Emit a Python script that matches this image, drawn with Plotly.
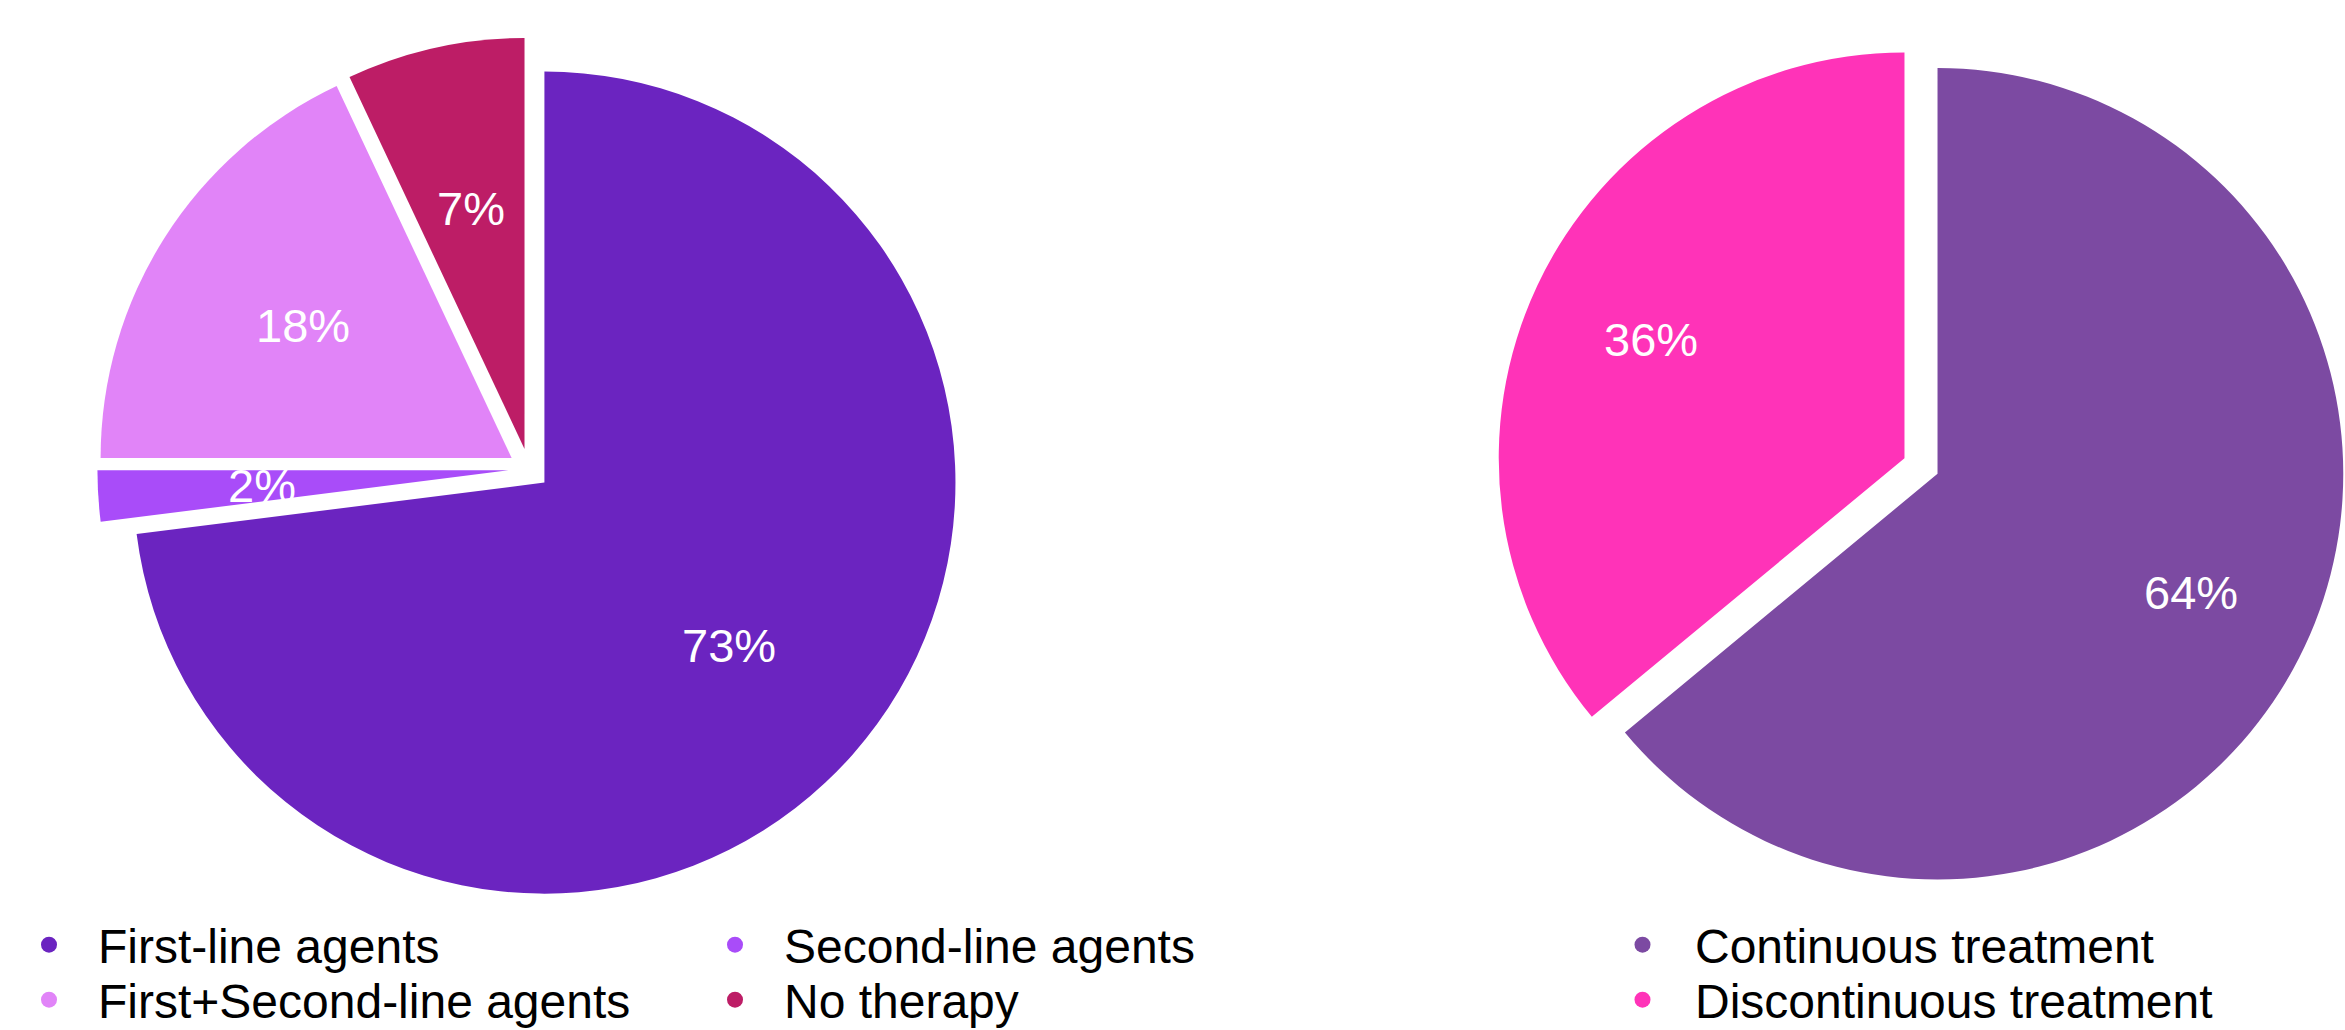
import math
import plotly.graph_objects as go

# ---- data ----
therapy_labels = ["First-line agents", "Second-line agents", "First+Second-line agents", "No therapy"]
therapy_values = [73, 2, 18, 7]
therapy_colors = ["#6b24c0", "#a94cf9", "#e184f8", "#bd1d66"]

treat_labels = ["Continuous treatment", "Discontinuous treatment"]
treat_values = [64, 36]
treat_colors = ["#7c4aa2", "#ff33b8"]

W, H = 2345, 1030
FONT = "Liberation Sans, Arial, Helvetica, sans-serif"

# pie boxes in pixels: (x0, x1, y0_top, y1_bottom)
LEFT_BOX = (97.4, 960.6, 37.4, 900.6)
RIGHT_BOX = (1497.0, 2345.0, 42.0, 890.0)
LEFT_PULL, RIGHT_PULL = 0.05, 0.045


def dom(box):
    x0, x1, t, b = box
    return dict(x=[x0 / W, min(x1 / W, 1.0)], y=[1 - b / H, 1 - t / H])


def label_annotations(values, box, pull, frac):
    """Percentage labels along each slice's bisector (same geometry plotly uses for the pie)."""
    x0, x1, t, b = box
    cx, cy = (x0 + x1) / 2, (t + b) / 2
    r = min(x1 - x0, b - t) / 2 / (1 + pull)
    total = float(sum(values))
    anns, cum = [], 0.0
    for v in values:
        theta = math.radians(360.0 * (cum + v / 2.0) / total)
        cum += v
        d = (pull + frac) * r
        px, py = cx + d * math.sin(theta), cy - d * math.cos(theta)
        anns.append(dict(x=px / W, y=1 - py / H, xref="paper", yref="paper",
                         text=f"{v}%", showarrow=False,
                         font=dict(color="white", size=47, family=FONT),
                         xanchor="center", yanchor="middle"))
    return anns


fig = go.Figure()

fig.add_trace(go.Pie(
    labels=therapy_labels, values=therapy_values, sort=False,
    direction="clockwise", rotation=0,
    marker=dict(colors=therapy_colors, line=dict(width=0)),
    pull=[LEFT_PULL] * len(therapy_values),
    textinfo="none", showlegend=False, hoverinfo="label+percent",
    domain=dom(LEFT_BOX),
))

fig.add_trace(go.Pie(
    labels=treat_labels, values=treat_values, sort=False,
    direction="clockwise", rotation=0,
    marker=dict(colors=treat_colors, line=dict(width=0)),
    pull=[RIGHT_PULL] * len(treat_values),
    textinfo="none", showlegend=False, hoverinfo="label+percent",
    domain=dom(RIGHT_BOX),
))

# legend entries (circle markers)
legend_rows = {"legend": [0, 1], "legend2": [2, 3]}
for lg, idxs in legend_rows.items():
    for i in idxs:
        fig.add_trace(go.Scatter(
            x=[None], y=[None], mode="markers", name=therapy_labels[i],
            marker=dict(symbol="circle", size=16, color=therapy_colors[i]),
            legend=lg, showlegend=True, hoverinfo="skip",
        ))
for i, lg in enumerate(["legend3", "legend4"]):
    fig.add_trace(go.Scatter(
        x=[None], y=[None], mode="markers", name=treat_labels[i],
        marker=dict(symbol="circle", size=16, color=treat_colors[i]),
        legend=lg, showlegend=True, hoverinfo="skip",
    ))

IW_LEFT = 88
leg_base = dict(orientation="h", xanchor="left", yanchor="middle",
                font=dict(size=48, color="#000000", family=FONT),
                bgcolor="rgba(0,0,0,0)", borderwidth=0,
                itemclick=False, itemdoubleclick=False)
leg_left = dict(leg_base, itemwidth=IW_LEFT,
                entrywidth=686 - IW_LEFT - 15, entrywidthmode="pixels")
leg_right = dict(leg_base, itemwidth=95)

annotations = (label_annotations(therapy_values, LEFT_BOX, LEFT_PULL, 0.60)
               + label_annotations(treat_values, RIGHT_BOX, RIGHT_PULL, 0.69))

ROW1, ROW2 = 945, 1000
fig.update_layout(
    width=W, height=H,
    margin=dict(l=0, r=0, t=0, b=0, autoexpand=False),
    paper_bgcolor="white", plot_bgcolor="white",
    xaxis=dict(visible=False), yaxis=dict(visible=False),
    legend=dict(x=0, y=1 - ROW1 / H, **leg_left),
    legend2=dict(x=0, y=1 - ROW2 / H, **leg_left),
    legend3=dict(x=1590 / W, y=1 - ROW1 / H, **leg_right),
    legend4=dict(x=1590 / W, y=1 - ROW2 / H, **leg_right),
    annotations=annotations,
)

fig.write_html("out.html")
